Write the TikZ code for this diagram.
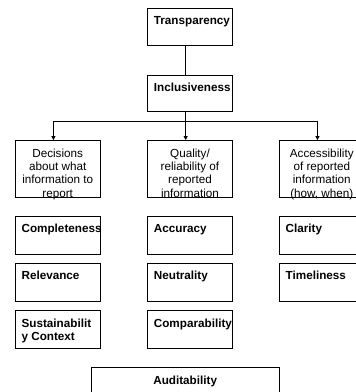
\documentclass[tikz,border=0pt]{standalone}
\usepackage{fontspec}
\setmainfont{Liberation Sans}
\usetikzlibrary{arrows.meta}

\begin{document}
\begin{tikzpicture}[x=1pt, y=-1pt,
        box/.style={draw, line width=0.8pt, minimum width=84.8pt, minimum height=#1, inner sep=0pt},
        box/.default=38pt,
        boldtxt/.style={anchor=north west, inner sep=0pt, xshift=6.5pt, yshift=-8.4pt, align=left,
            font=\bfseries\fontsize{11.7}{13.3}\selectfont},
        midtxt/.style={anchor=north, inner sep=0pt, yshift=-8.6pt, align=center,
            font=\fontsize{11.7}{13.3}\selectfont},
        arr/.style={line width=0.8pt, -{Triangle[length=4pt, width=4pt]}}]
        \clip (0,0) rectangle (356,392);

        \def\colA{57.7}
        \def\colB{190}
        \def\colC{321.8}
        \def\off{-4.3pt} % 连线偏左

        % 顶部
        \node[box=37.4pt, label={[boldtxt]north west:Transparency}] (transp) at (\colB, 27) {};
        \node[box=36.7pt, label={[boldtxt]north west:Inclusiveness}] (incl) at (\colB, 93.3) {};

        % 三个分类
        \node[box=56.8pt, label={[midtxt]north:{Decisions\\about what\\information to\\report}}] (dec) at (\colA, 168.9) {};
        \node[box=56.8pt, label={[midtxt]north:{Quality/\\reliability of\\reported\\information}}] (qual) at (\colB, 168.9) {};
        \node[box=56.8pt, label={[midtxt]north:{Accessibility\\of reported\\information\\(how, when)}}] (acc) at (\colC, 168.9) {};

        % 原则
        \node[box, label={[boldtxt]north west:Completeness}] (compl) at (\colA, 235) {};
        \node[box, label={[boldtxt]north west:Relevance}] (relev) at (\colA, 282.3) {};
        \node[box, label={[boldtxt]north west:{Sustainabilit\\y Context}}] (sust) at (\colA, 329.5) {};
        \node[box, label={[boldtxt]north west:Accuracy}] (accur) at (\colB, 235) {};
        \node[box, label={[boldtxt]north west:Neutrality}] (neutr) at (\colB, 282.3) {};
        \node[box, label={[boldtxt]north west:Comparability}] (compar) at (\colB, 329.5) {};
        \node[box, label={[boldtxt]north west:Clarity}] (clar) at (\colC, 235) {};
        \node[box, label={[boldtxt]north west:Timeliness}] (timel) at (\colC, 282.3) {};

        % 底部
        \node[box, minimum width=188.3pt, label={[midtxt, font=\bfseries\fontsize{11.7}{13.3}\selectfont]north:Auditability}] (audit) at (185.2, 386.3) {};

        % 连线
        \coordinate (hub) at (185.7, 121.5);
        \draw[line width=0.8pt] ([xshift=\off]transp.south) -- ([xshift=\off]incl.north);
        \draw[line width=0.8pt] ([xshift=\off]incl.south) -- (hub);
        \draw[arr] (hub) -| ([xshift=\off]dec.north);
        \draw[arr] (hub) -- ([xshift=\off]qual.north);
        \draw[arr] (hub) -| ([xshift=\off]acc.north);
    \end{tikzpicture}
\end{document}
